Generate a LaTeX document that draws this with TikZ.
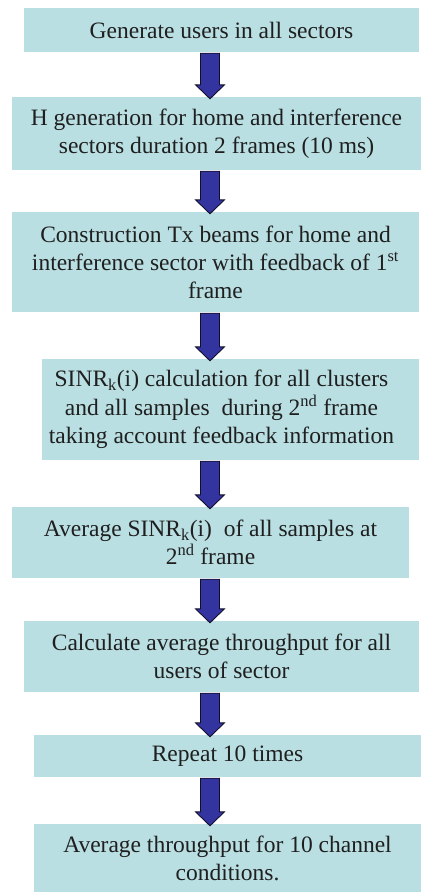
\documentclass[tikz,border=0pt]{standalone}
\usepackage{fontspec}
\setmainfont{Liberation Serif}
\usetikzlibrary{calc}

\definecolor{boxcyan}{HTML}{B9DFE2}
\definecolor{arrblue}{HTML}{3434A0}
\definecolor{arrline}{HTML}{10102A}

\begin{document}
\begin{tikzpicture}[
  x=1pt,y=1pt,
  box/.style={rectangle,fill=boxcyan,align=center,inner sep=0pt,
    text=black!88,font=\rmfamily\fontsize{23.5}{28}\selectfont},
  blk/.style={draw=arrline,fill=arrblue,line width=0.9pt,line join=miter,
    to path={let \p1=(\tikztostart), \p2=(\tikztotarget) in
      (\x1-9.5,\y1-1) -- (\x2-9.5,\y2+12) -- (\x2-14.5,\y2+12) -- (\x2,\y2-2)
      -- (\x2+14.5,\y2+12) -- (\x2+9.5,\y2+12) -- (\x1+9.5,\y1-1) -- cycle}}
]
\useasboundingbox (0,0) rectangle (421,-892);
\fill[white] (0,0) rectangle (421,-892);
% steps of the flow
\node[box,minimum width=395,minimum height=44] (users) at (221.5,-30)
  {Generate users in all sectors};
\node[box,minimum width=409,minimum height=73] (hgen) at (216.5,-133.5)
  {H generation for home and interference\\ sectors duration 2 frames (10 ms)};
\node[box,minimum width=407,minimum height=100] (beams) at (215.5,-262)
  {Construction Tx beams for home and\\ interference sector with feedback of 1\textsuperscript{st}\\ frame};
\node[box,minimum width=377,minimum height=101] (sinr) at (230.5,-409.5)
  {\begin{tabular}{@{}c@{\hspace{18pt}}}
   SINR\textsubscript{k}(i) calculation for all clusters\\ and all samples\ \ during 2\textsuperscript{nd} frame\\ taking account feedback information
   \end{tabular}};
\node[box,minimum width=397,minimum height=71] (avgsinr) at (210.5,-542.5)
  {Average SINR\textsubscript{k}(i)\ \ of all samples at\\ 2\textsuperscript{nd} frame};
\node[box,minimum width=395,minimum height=71] (thru) at (221.5,-656.5)
  {Calculate average throughput for all\\ users of sector};
\node[box,minimum width=387,minimum height=42] (rep) at (227.5,-756)
  {Repeat 10 times};
\node[box,minimum width=387,minimum height=68] (avgthru) at (227.5,-858)
  {Average throughput for 10 channel\\ conditions.};
% block arrows
\coordinate (ax) at (210,0);
\draw[blk] (users.south -| ax) to (hgen.north -| ax);
\draw[blk] (hgen.south -| ax) to (beams.north -| ax);
\draw[blk] (beams.south -| ax) to (sinr.north -| ax);
\draw[blk] (sinr.south -| ax) to (avgsinr.north -| ax);
\draw[blk] (avgsinr.south -| ax) to (thru.north -| ax);
\draw[blk] (thru.south -| ax) to (rep.north -| ax);
\draw[blk] (rep.south -| ax) to (avgthru.north -| ax);
\end{tikzpicture}
\end{document}
